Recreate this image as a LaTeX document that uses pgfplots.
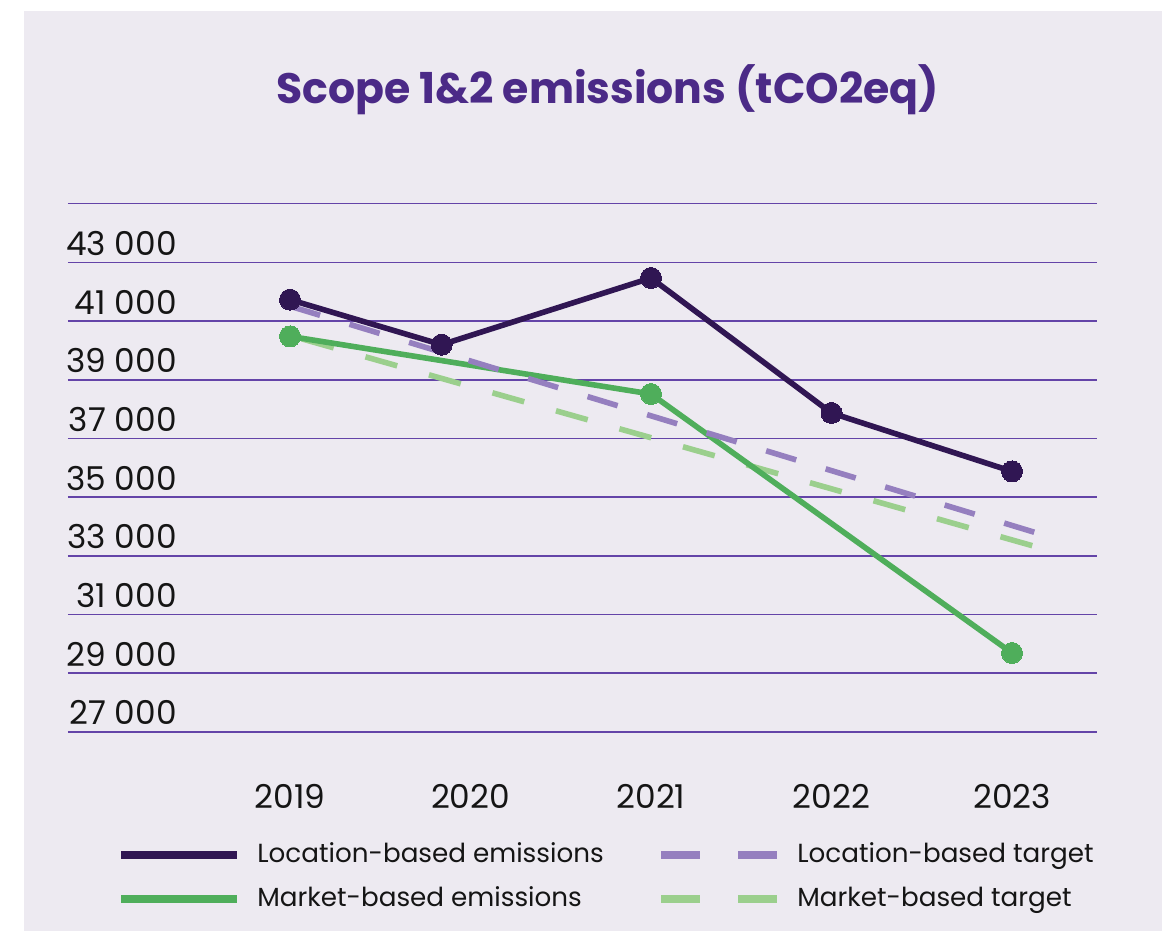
\documentclass[border=0pt]{standalone}
\usepackage{pgfplots}
\pgfplotsset{compat=1.18}
\usepackage{fontspec}
\setmainfont{Poppins}
\definecolor{bg}{HTML}{EDEAF1}
\definecolor{titlec}{HTML}{4B2A87}
\definecolor{gridc}{HTML}{6444A8}
\definecolor{locc}{HTML}{301653}
\definecolor{mktc}{HTML}{4FAE5B}
\definecolor{loct}{HTML}{957FBF}
\definecolor{mktt}{HTML}{9BCF8D}
\definecolor{txt}{HTML}{151515}
\begin{document}
\begin{tikzpicture}
\useasboundingbox (0,0) rectangle (581pt,465.5pt);
\fill[white] (0,0) rectangle (581pt,465.5pt);
\fill[bg] (12pt,0) rectangle (581pt,460pt);
\begin{axis}[
  at={(34pt,99.5pt)}, anchor=south west,
  scale only axis, width=514.5pt, height=264.15pt,
  xmin=2017.770, xmax=2023.471,
  ymin=26349, ymax=44349,
  scaled y ticks=false, scaled x ticks=false,
  axis line style={draw=none},
  major tick style={draw=none}, major tick length=0pt,
  xtick={2019,2020,2021,2022,2023},
  xticklabels={2019,2020,2021,2022,2023},
  ytick={26349,28349,30349,32349,34349,36349,38349,40349,42349,44349},
  yticklabels={},
  ymajorgrids,
  major grid style={draw=gridc, line width=0.8pt},
  extra y ticks={27000,29000,31000,33000,35000,37000,39000,41000,43000},
  extra y tick labels={27~000,29~000,31~000,33~000,35~000,37~000,39~000,41~000,43~000},
  extra y tick style={grid=none, scaled y ticks=false},
  tick label style={font=\fontsize{16.4}{18}\selectfont, text=txt},
  yticklabel style={anchor=east, inner sep=0pt, xshift=54.5pt},
  xticklabel style={anchor=north, inner sep=0pt, yshift=-26pt},
  title={Scope 1\&2 emissions (tCO2eq)},
  title style={at={(axis description cs:0.5243,1.1665)}, anchor=base, font=\fontsize{21.3}{24}\bfseries\selectfont, text=titlec, inner sep=0pt},
  legend columns=2,
  legend cell align=left,
  legend style={at={(axis description cs:0.0476,-0.275)}, anchor=west, draw=none, fill=none, inner sep=0pt,
    font=\fontsize{13.1}{15}\selectfont, text=txt, row sep=9pt,
    /tikz/every odd column/.append style={column sep=8pt},
    nodes={inner sep=0pt, text height=10pt, text depth=3pt}},
]
% legend entries
\addlegendimage{legend image code/.code={\draw[locc, line width=4pt] (0pt,0pt) -- (58pt,0pt);}}
\addlegendentry{\makebox[200pt][l]{Location-based emissions}}
\addlegendimage{legend image code/.code={\draw[loct, line width=4pt, dash pattern=on 19.5pt off 19pt] (0pt,0pt) -- (58pt,0pt);}}
\addlegendentry{Location-based target}
\addlegendimage{legend image code/.code={\draw[mktc, line width=4pt] (0pt,0pt) -- (58pt,0pt);}}
\addlegendentry{\makebox[200pt][l]{Market-based emissions}}
\addlegendimage{legend image code/.code={\draw[mktt, line width=4pt, dash pattern=on 19.5pt off 19pt] (0pt,0pt) -- (58pt,0pt);}}
\addlegendentry{Market-based target}
% market-based target
\addplot[forget plot, mktt, line width=2.8pt, dash pattern=on 16.5pt off 16.5pt, dash phase=26.8pt] coordinates {(2019,39859) (2023.118,32687)};
% market-based emissions
\addplot[forget plot, mktc, line width=2.8pt, mark=*, mark size=5.25pt, mark options={solid, fill=mktc, draw=mktc, line width=0pt}] coordinates {(2019,39828) (2021,37865) (2023,29041)};
% location-based target
\addplot[forget plot, loct, line width=2.8pt, dash pattern=on 15.7pt off 15.4pt] coordinates {(2019,40857) (2023.137,33130)};
% location-based emissions
\addplot[forget plot, locc, line width=2.8pt, mark=*, mark size=5.25pt, mark options={solid, fill=locc, draw=locc, line width=0pt}] coordinates {(2019,41078) (2019.84,39545) (2021,41818) (2022,37218) (2023,35228)};
\end{axis}
\end{tikzpicture}
\end{document}
